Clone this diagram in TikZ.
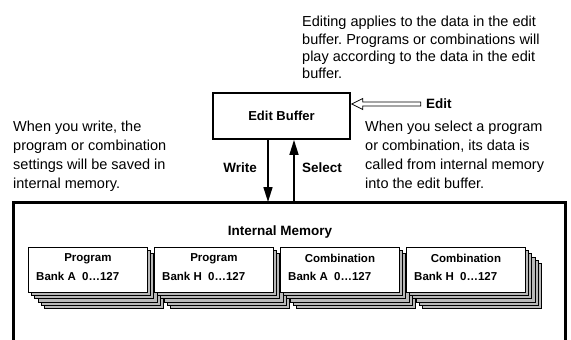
\documentclass[tikz,border=0pt]{standalone}
\usepackage{fontspec}
\setmainfont{Liberation Sans}
\usetikzlibrary{positioning,arrows.meta}
\frenchspacing

\begin{document}
\begin{tikzpicture}[x=1pt, y=-1pt,
  note/.style={align=left, anchor=north west, inner sep=0pt, font=\fontsize{14.5}{19}\selectfont},
  lbl/.style={inner sep=0pt, font=\fontsize{13.5}{16}\selectfont\bfseries},
  bufbox/.style={draw, line width=1.8pt, minimum width=137pt, minimum height=46pt, inner sep=0pt, font=\fontsize{13}{16}\selectfont\bfseries},
  card/.style={draw, line width=0.8pt, fill=white, anchor=north west, minimum width=119pt, minimum height=45pt, inner sep=0pt},
  backcard/.style={draw, line width=0.8pt, fill=gray!55},
  cardtext/.style={inner sep=0pt, font=\fontsize{11.5}{13}\selectfont\bfseries},
  arrow/.style={-{Triangle[length=15pt, width=9pt]}, line width=1.6pt},
  hollow/.style={draw, line width=0.8pt, fill=white, line join=miter}]
  \useasboundingbox (0,0) rectangle (571,340);
  % notes
  \node[note, font=\fontsize{14.5}{17.3}\selectfont] (edittext) at (302,16) {Editing applies to the data in the edit\\buffer. Programs or combinations will\\play according to the data in the edit\\buffer.};
  \node[note] (writetext) at (13,120.5) {When you write, the\\program or combination\\settings will be saved in\\internal memory.};
  \node[note] (selecttext) at (365,120.5) {When you select a program\\or combination, its data is\\called from internal memory\\into the edit buffer.};
  % edit buffer
  \node[bufbox] (buf) at (281.5,116) {Edit Buffer};
  \node[lbl, anchor=west] (edit) at (426,104) {Edit};
  \coordinate (etip) at ([yshift=12pt, xshift=0.9pt]buf.east);
  \draw[hollow] (etip) -- ++(11,-5.5) -- ++(0,3.5) -- ++(58,0) -- ++(0,4) -- ++(-58,0) -- ++(0,3.5) -- cycle;
  % internal memory
  \node[minimum width=552pt, minimum height=160pt, anchor=north west, inner sep=0pt] (mem) at (13,202) {};
  \draw[line width=3pt] (mem.south west) -- (mem.north west) -- (mem.north east) -- (mem.south east);
  \node[lbl] (memlbl) at (280,232) {Internal Memory};
  % write / select
  \coordinate (wx) at (268,0);
  \coordinate (sx) at (294,0);
  \draw[arrow] (buf.south -| wx) -- (mem.north -| wx);
  \draw[arrow] (mem.north -| sx) -- (buf.south -| sx);
  \node[lbl, anchor=east] (write) at (257,168) {Write};
  \node[lbl, anchor=west] (select) at (302,168) {Select};
  % banks
  \foreach \n/\x/\t/\b in {pa/28/Program/A, ph/154/Program/H, ca/280/Combination/A, ch/406/Combination/H} {
    \foreach \k in {5,4,3,2,1}
      \draw[backcard] (\x+3.3*\k, 247+3.3*\k) rectangle ++(119,45);
    \node[card] (\n) at (\x,247) {};
    \node[cardtext] at ([yshift=11.5pt]\n.center) {\t};
    \node[cardtext, anchor=west] at ([xshift=8pt, yshift=-6.5pt]\n.west) {Bank \b\ \ 0\ldots127};
  }
\end{tikzpicture}
\end{document}
